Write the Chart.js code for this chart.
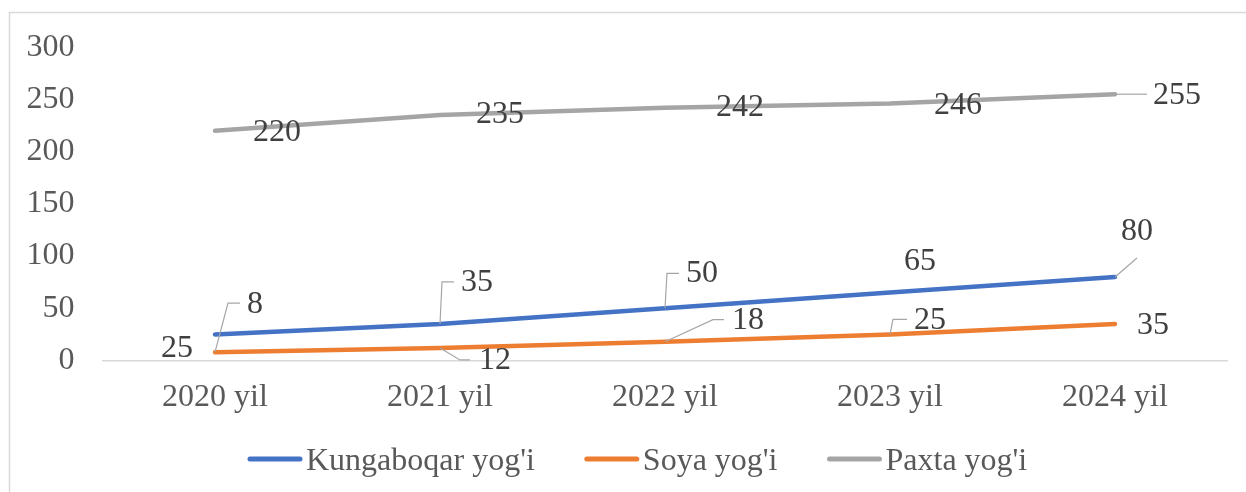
<!DOCTYPE html>
<html>
<head>
<meta charset="utf-8">
<script src="https://cdn.jsdelivr.net/npm/chart.js@4.4.1/dist/chart.umd.min.js"></script>
<style>
html,body{margin:0;padding:0;background:#fff;}
#wrap{width:1246px;height:492px;position:relative;}
</style>
</head>
<body>
<div id="wrap"><canvas id="c" width="1246" height="492"></canvas></div>
<script>
// ---- data ----
const categories = ["2020 yil", "2021 yil", "2022 yil", "2023 yil", "2024 yil"];
const kungaboqar = [25, 35, 50, 65, 80];
const soya = [8, 12, 18, 25, 35];
const paxta = [220, 235, 242, 246, 255];
const seriesNames = ["Kungaboqar yog'i", "Soya yog'i", "Paxta yog'i"];
const yTicks = [0, 50, 100, 150, 200, 250, 300];

// label placement (offsets in px from the point; optional leader line path)
const labelLayout = [
  [ {dx:-38, dy:14}, {dx:37, dy:-41, lead:[[2,-42],[14,-42]]}, {dx:37, dy:-35, lead:[[2,-35],[14,-35]]}, {dx:30, dy:-31}, {dx:22, dy:-45, lead:[[22,-19]]} ],
  [ {dx:40, dy:-48, lead:[[13,-49],[25,-49]]}, {dx:55, dy:13, lead:[[20,12],[30,12]]}, {dx:83, dy:-21, lead:[[48,-22],[59,-22]]}, {dx:40, dy:-14, lead:[[3,-15],[17,-15]]}, {dx:38, dy:2} ],
  [ {dx:62, dy:1.5}, {dx:60, dy:0}, {dx:75, dy:0}, {dx:68, dy:2}, {dx:62, dy:1, lead:[[3,0],[32,0]]} ]
];

const colors = ["#4472C4", "#ED7D31", "#A5A5A5"];
const FONT = "'Liberation Serif', 'Times New Roman', serif";

const borderPlugin = {
  id: 'outerBorder',
  beforeDraw(chart) {
    const ctx = chart.ctx;
    ctx.save();
    ctx.fillStyle = '#fff';
    ctx.fillRect(0, 0, chart.width, chart.height);
    ctx.strokeStyle = '#D9D9D9';
    ctx.lineWidth = 1.5;
    ctx.strokeRect(9.5, 12.5, chart.width + 20, chart.height + 20);
    ctx.restore();
  }
};

const labelPlugin = {
  id: 'dataLabels',
  afterDatasetsDraw(chart) {
    const ctx = chart.ctx;
    ctx.save();
    ctx.font = "32px " + FONT;
    ctx.textAlign = 'center';
    ctx.textBaseline = 'middle';
    chart.data.datasets.forEach((ds, di) => {
      const meta = chart.getDatasetMeta(di);
      meta.data.forEach((pt, i) => {
        const L = labelLayout[di][i];
        if (L.lead) {
          ctx.strokeStyle = '#A6A6A6';
          ctx.lineWidth = 1.2;
          ctx.beginPath();
          ctx.moveTo(pt.x, pt.y);
          L.lead.forEach(p => ctx.lineTo(pt.x + p[0], pt.y + p[1]));
          ctx.stroke();
        }
        ctx.fillStyle = '#404040';
        ctx.fillText(String(ds.data[i]), pt.x + L.dx, pt.y + L.dy);
      });
    });
    ctx.restore();
  }
};

const legendPlugin = {
  id: 'customLegend',
  afterDraw(chart) {
    const ctx = chart.ctx;
    ctx.save();
    ctx.font = "32px " + FONT;
    ctx.textBaseline = 'middle';
    ctx.textAlign = 'left';
    const y = 462;
    const lineW = 54, gapText = 4, gapItem = 50;
    const widths = chart.data.datasets.map(ds => lineW + gapText + ctx.measureText(ds.label).width);
    let x = 248;
    chart.data.datasets.forEach((ds, di) => {
      ctx.strokeStyle = ds.borderColor;
      ctx.lineWidth = 5;
      ctx.lineCap = 'round';
      ctx.beginPath();
      ctx.moveTo(x + 2, y - 3);
      ctx.lineTo(x + lineW - 2, y - 3);
      ctx.stroke();
      ctx.fillStyle = '#595959';
      ctx.fillText(ds.label, x + lineW + gapText, y);
      x += widths[di] + gapItem;
    });
    ctx.restore();
  }
};

new Chart(document.getElementById('c'), {
  type: 'line',
  data: {
    labels: categories,
    datasets: [
      { label: seriesNames[0], data: kungaboqar, borderColor: colors[0], backgroundColor: colors[0] },
      { label: seriesNames[1], data: soya, borderColor: colors[1], backgroundColor: colors[1] },
      { label: seriesNames[2], data: paxta, borderColor: colors[2], backgroundColor: colors[2] }
    ]
  },
  options: {
    responsive: false,
    animation: false,
    devicePixelRatio: 1,
    layout: { padding: { left: 0, right: 18.5, top: 41, bottom: 0 } },
    elements: {
      line: { borderWidth: 4.5, tension: 0, borderCapStyle: 'round', borderJoinStyle: 'round' },
      point: { radius: 0, hoverRadius: 0 }
    },
    plugins: {
      legend: { display: false },
      tooltip: { enabled: false }
    },
    scales: {
      x: {
        offset: true,
        grid: { display: false, drawTicks: false },
        border: { display: true, color: '#D9D9D9', width: 1.5 },
        ticks: { color: '#595959', font: { family: FONT, size: 32 }, padding: 18, maxRotation: 0, autoSkip: false },
        afterFit(scale) { scale.height = 131.5; }
      },
      y: {
        min: 0, max: 300,
        afterBuildTicks(scale) { scale.ticks = yTicks.map(v => ({ value: v })); },
        grid: { display: false, drawTicks: false },
        border: { display: false },
        ticks: { color: '#595959', font: { family: FONT, size: 32 }, padding: 28 },
        afterFit(scale) { scale.width = 102.5; }
      }
    }
  },
  plugins: [borderPlugin, labelPlugin, legendPlugin]
});
</script>
</body>
</html>
